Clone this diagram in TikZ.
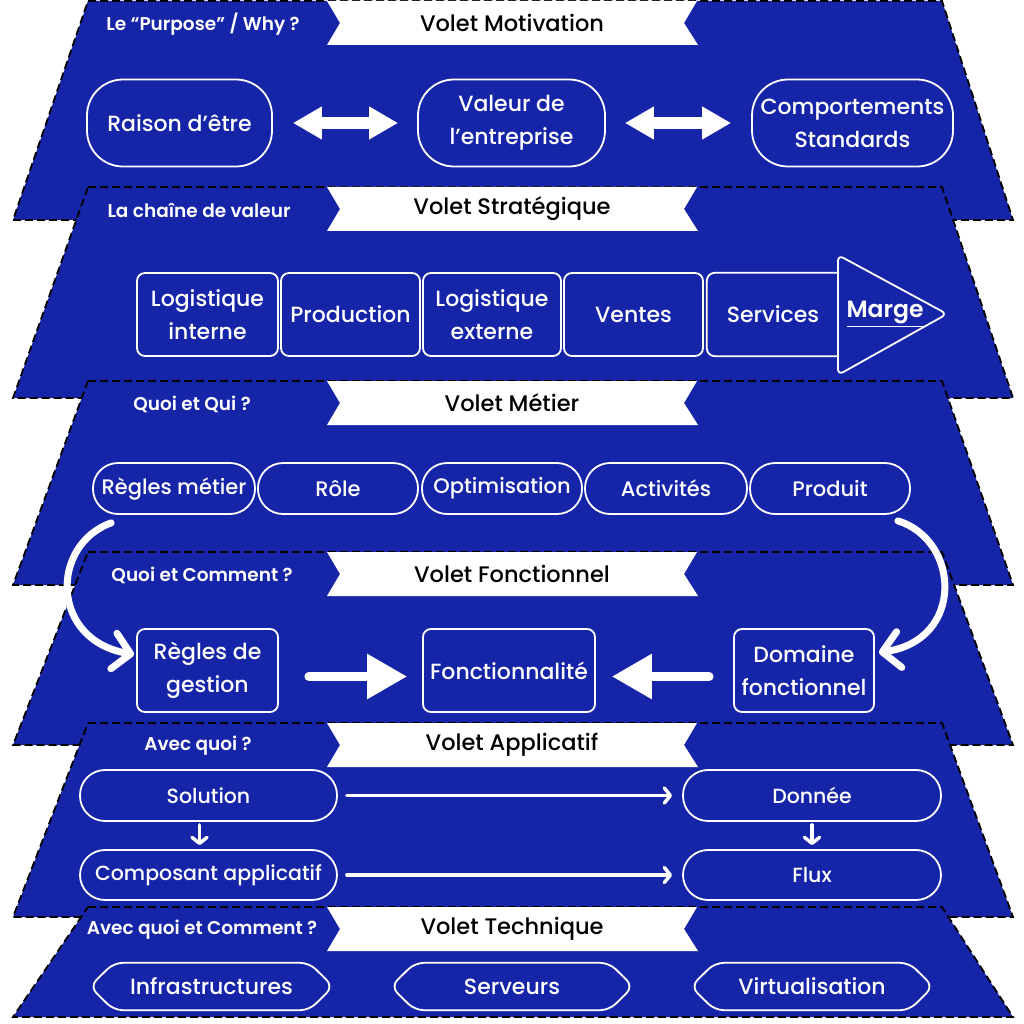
\documentclass[tikz,border=0pt]{standalone}
\usepackage{fontspec}
\setmainfont{Poppins}[UprightFont=* Medium, BoldFont=* SemiBold]
\usetikzlibrary{arrows.meta,calc}
\definecolor{bleu}{RGB}{22,37,167}
\tikzset{
  layer/.style={fill=bleu, draw=black, line width=1.8pt, dash pattern=on 8pt off 4pt},
  titre/.style={text=black, font=\fontsize{22.5}{26}\selectfont, inner sep=0pt},
  lab/.style={text=white, font=\bfseries\fontsize{18.5}{21}\selectfont, inner sep=0pt},
  boxline/.style={draw=white, line width=1.8pt},
  txt/.style={text=white, align=center, font=\fontsize{22}{33}\selectfont, inner sep=0pt},
  txtm/.style={font=\fontsize{21}{33}\selectfont},
  txts/.style={font=\fontsize{20.5}{33}\selectfont},
  rbox/.style={txt, boxline, rounded corners=8pt},
  pill/.style={txt, boxline, rounded corners=25pt},
  big/.style={txt, boxline, rounded corners=36pt},
  plain/.style={txt},
  fatdbl/.style={draw=white, line width=12pt, {Triangle[length=29pt,width=31pt]}-{Triangle[length=29pt,width=31pt]}},
  fatone/.style={draw=white, line width=9pt, line cap=round, -{Triangle[length=40pt,width=43pt]}},
  thin/.style={draw=white, line width=3.5pt, line cap=round, -{Straight Barb[round,length=6pt,width=15pt]}},
  curve/.style={draw=white, line width=7pt, line cap=round, -{Straight Barb[round,length=17pt,width=36pt]}}
}
\newcommand\couche[6]{%
  \draw[layer] (88,#1) -- (942,#1) -- (1013,#2) -- (13,#2) -- cycle;
  \fill[white] (327,#1) -- (697,#1) -- (684,#1+22) -- (698,#1+44) -- (327,#1+44) -- (340,#1+22) -- cycle;
  \node[titre] (t#3) at (512,#1+22) {#4};
  \node[lab] (l#3) at (#6,#1+23) {#5};
}
\newcommand\hexa[1]{%
  \draw[boxline, rounded corners=9pt] (#1.west) -- ($(#1.north west)+(24,0)$) -- ($(#1.north east)+(-24,0)$) -- (#1.east) -- ($(#1.south east)+(-24,0)$) -- ($(#1.south west)+(24,0)$) -- cycle;
}
\begin{document}
\begin{tikzpicture}[x=1pt,y=-1pt]
\useasboundingbox (0,0) rectangle (1024,1024);
\fill[white] (0,0) rectangle (1024,1024);

\couche{1}{220}{mot}{Volet Motivation}{Le “Purpose” / Why ?}{203}
\couche{187}{398}{str}{Volet Stratégique}{La chaîne de valeur}{199}
\couche{381}{585}{met}{Volet Métier}{Quoi et Qui ?}{192}
\couche{552}{745}{fon}{Volet Fonctionnel}{Quoi et Comment ?}{202}
\couche{723}{917}{app}{Volet Applicatif}{Avec quoi ?}{198}
\couche{907}{1017}{tec}{Volet Technique}{Avec quoi et Comment ?}{202}

% Motivation
\node[big, minimum width=185pt, minimum height=87pt] (raison) at (179.5,123) {Raison d’être};
\node[big, minimum width=187pt, minimum height=87pt] (valeur) at (511.5,123) {Valeur de\\l’entreprise};
\node[big, minimum width=201pt, minimum height=87pt] (comport) at (852.5,123) {Comportements\\Standards};
\draw[fatdbl, shorten <=20pt, shorten >=19pt] (raison) -- (valeur);
\draw[fatdbl, shorten <=19pt, shorten >=20pt] (valeur) -- (comport);

% Strategique
\node[rbox, minimum width=141pt, minimum height=83pt] (logint) at (207.5,314.5) {Logistique\\interne};
\node[rbox, minimum width=139pt, minimum height=83pt] (prod) at (350.5,314.5) {Production};
\node[rbox, minimum width=138pt, minimum height=83pt] (logext) at (492,314.5) {Logistique\\externe};
\node[rbox, minimum width=139pt, minimum height=83pt] (ventes) at (633.5,314.5) {Ventes};
\node[plain, minimum width=132pt, minimum height=83pt] (serv) at (773,314.5) {Services};
\draw[boxline, rounded corners=8pt] (serv.north east) -- (serv.north west) -- (serv.south west) -- (serv.south east);
\coordinate (mA) at (838,255);
\coordinate (mB) at (947,314);
\coordinate (mC) at (838,375);
\draw[boxline, rounded corners=6pt] (mA) -- (mB) -- (mC) -- cycle;
\node[txt, font=\bfseries\fontsize{23.5}{26}\selectfont] (marge) at (885,314) {\underline{Marge}};

% Metier
\node[pill, txtm, minimum width=162pt, minimum height=51pt] (rmet) at (174,488.5) {Règles métier};
\node[pill, txtm, minimum width=160pt, minimum height=51pt] (role) at (338,488.5) {Rôle};
\node[pill, txtm, minimum width=160pt, minimum height=51pt] (optim) at (502,488.5) {Optimisation};
\node[pill, txtm, minimum width=162pt, minimum height=51pt] (activ) at (666,488.5) {Activités};
\node[pill, txtm, minimum width=160pt, minimum height=51pt] (produit) at (830,488.5) {Produit};

% Fonctionnel
\node[rbox, minimum width=141pt, minimum height=83pt] (rgest) at (207.5,670.5) {Règles de\\gestion};
\node[rbox, minimum width=172pt, minimum height=83pt] (fonct) at (509,670.5) {Fonctionnalité};
\node[rbox, minimum width=140pt, minimum height=83pt] (domaine) at (804,670.5) {Domaine\\fonctionnel};
\draw[fatone, shorten <=30pt, shorten >=15pt] ($(rgest.east)+(0,6)$) -- ($(fonct.west)+(0,6)$);
\draw[fatone, shorten <=24pt, shorten >=16pt] ($(domaine.west)+(0,6)$) -- ($(fonct.east)+(0,6)$);
\draw[curve] ($(rmet.south west)+(19,8)$) .. controls (50,545) and (50,640) .. ($(rgest.west)+(-2,-16)$);
\draw[curve] ($(produit.south east)+(-13,6)$) .. controls (960,540) and (965,640) .. ($(domaine.east)+(4,-18)$);

% Applicatif
\node[pill, txts, minimum width=257pt, minimum height=51pt] (sol) at (208.5,795.5) {Solution};
\node[pill, txts, minimum width=258pt, minimum height=51pt] (donnee) at (812,795.5) {Donnée};
\node[pill, txts, minimum width=257pt, minimum height=50pt] (comp) at (208.5,875) {Composant applicatif};
\node[pill, txts, minimum width=258pt, minimum height=50pt] (flux) at (812,875) {Flux};
\draw[thin, shorten <=9pt, shorten >=10pt] (sol) -- (donnee);
\draw[thin, shorten <=9pt, shorten >=10pt] (comp) -- (flux);
\draw[thin, shorten <=3pt, shorten >=4pt] ($(sol.south)+(-9,0)$) -- ($(comp.north)+(-9,0)$);
\draw[thin, shorten <=3pt, shorten >=4pt] (donnee.south) -- (flux.north);

% Technique
\node[txt, minimum width=243pt, minimum height=47pt] (infra) at (211.5,986.5) {Infrastructures};
\node[txt, minimum width=242pt, minimum height=47pt] (serveurs) at (512,986.5) {Serveurs};
\node[txt, minimum width=242pt, minimum height=47pt] (virt) at (812,986.5) {Virtualisation};
\hexa{infra}
\hexa{serveurs}
\hexa{virt}
\end{tikzpicture}
\end{document}
